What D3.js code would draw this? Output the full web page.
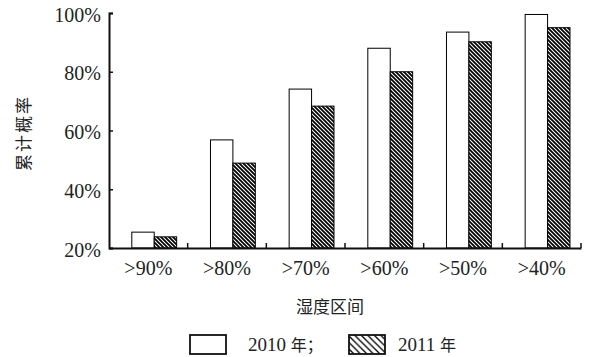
<!DOCTYPE html>
<html><head><meta charset="utf-8">
<script src="https://cdn.jsdelivr.net/npm/d3@7"></script>
<style>body{margin:0;background:#fff;}</style>
</head>
<body><svg id="c" width="591" height="357" font-family="Liberation Serif"></svg>
<script>
const categories = [">90%", ">80%", ">70%", ">60%", ">50%", ">40%"];
const series2010 = [25.4, 56.8, 74.1, 88.0, 93.5, 99.5];
const series2011 = [23.8, 48.9, 68.3, 80.0, 90.2, 95.0];
const seriesNames = ["2010", "2011"];
const yTicks = [20, 40, 60, 80, 100];

const SERIF = "Liberation Serif";
const CJK = "Noto Sans CJK SC";
const svg = d3.select("#c");

const defs = svg.append("defs");
function hatch(id, s, w) {
  const p = defs.append("pattern").attr("id", id).attr("patternUnits", "userSpaceOnUse")
    .attr("width", s).attr("height", s);
  p.append("rect").attr("width", s).attr("height", s).attr("fill", "#fff");
  p.append("path").attr("d", `M0,0L${s},${s}M${-s/2},${s/2}L${s/2},${s*1.5}M${s/2},${-s/2}L${s*1.5},${s/2}`)
    .attr("stroke", "#000").attr("stroke-width", w);
}
hatch("hb", 4, 1.8);
hatch("hl", 6.5, 1.3);

const x0 = d3.scaleBand().domain(categories).range([109, 581]).padding(0);
const bw = x0.bandwidth();
const x1 = d3.scaleBand().domain([0, 1]).range([bw * 0.29, bw * 0.86]).padding(0);
const y = d3.scaleLinear().domain([20, 100]).range([248, 13]);

const g = svg.append("g");
categories.forEach((c, i) => {
  const vals = [series2010[i], series2011[i]];
  vals.forEach((v, k) => {
    g.append("rect")
      .attr("x", x0(c) + x1(k))
      .attr("y", y(v))
      .attr("width", x1.bandwidth())
      .attr("height", y(20) - y(v))
      .attr("fill", k === 0 ? "#fff" : "url(#hb)")
      .attr("stroke", "#000")
      .attr("stroke-width", 1);
  });
});

// Y axis
const ya = svg.append("g").attr("transform", "translate(109,0)")
  .call(d3.axisLeft(y).tickValues(yTicks).tickSize(-4).tickPadding(8).tickFormat(d => d + "%"));
ya.attr("font-family", SERIF).attr("font-size", 20);
ya.select(".domain").attr("stroke", "#111").attr("stroke-width", 2);
ya.selectAll(".tick line").attr("stroke", "#111").attr("stroke-width", 1.5);
ya.selectAll(".tick text").attr("font-family", SERIF).attr("font-size", 20).attr("fill", "#222").attr("dy", "0.4em");

// X axis
const xa = svg.append("g").attr("transform", "translate(0,248)")
  .call(d3.axisBottom(x0).tickSize(0).tickPadding(13));
xa.attr("font-family", SERIF).attr("font-size", 20);
xa.select(".domain").attr("stroke", "#111").attr("stroke-width", 2);
xa.selectAll(".tick text").attr("font-family", SERIF).attr("font-size", 20).attr("fill", "#222");
const bounds = categories.map(c => x0(c) + bw);
xa.selectAll(".btick").data(bounds).enter().append("line").attr("class", "btick")
  .attr("x1", d => d).attr("x2", d => d).attr("y1", 0).attr("y2", -5)
  .attr("stroke", "#111").attr("stroke-width", 1.5);

// Titles
svg.append("text").attr("x", 330).attr("y", 313).attr("text-anchor", "middle")
  .attr("font-family", CJK).attr("font-size", 17).attr("fill", "#222").text("湿度区间");
svg.append("text").attr("transform", "translate(30,133) rotate(-90)").attr("text-anchor", "middle")
  .attr("font-family", CJK).attr("font-size", 17).attr("fill", "#222").attr("letter-spacing", 2).text("累计概率");

// Legend
const leg = svg.append("g");
leg.append("rect").attr("x", 190).attr("y", 335).attr("width", 36).attr("height", 19)
  .attr("fill", "#fff").attr("stroke", "#111").attr("stroke-width", 1.8);
const t1 = leg.append("text").attr("x", 248).attr("y", 351).attr("fill", "#222");
t1.append("tspan").attr("font-family", SERIF).attr("font-size", 19).text(seriesNames[0] + " ");
t1.append("tspan").attr("font-family", CJK).attr("font-size", 16).text("年；");
leg.append("rect").attr("x", 349).attr("y", 335).attr("width", 36).attr("height", 19)
  .attr("fill", "url(#hl)").attr("stroke", "#111").attr("stroke-width", 1.8);
const t2 = leg.append("text").attr("x", 398).attr("y", 351).attr("fill", "#222");
t2.append("tspan").attr("font-family", SERIF).attr("font-size", 19).text(seriesNames[1] + " ");
t2.append("tspan").attr("font-family", CJK).attr("font-size", 16).text("年");
</script></body></html>
